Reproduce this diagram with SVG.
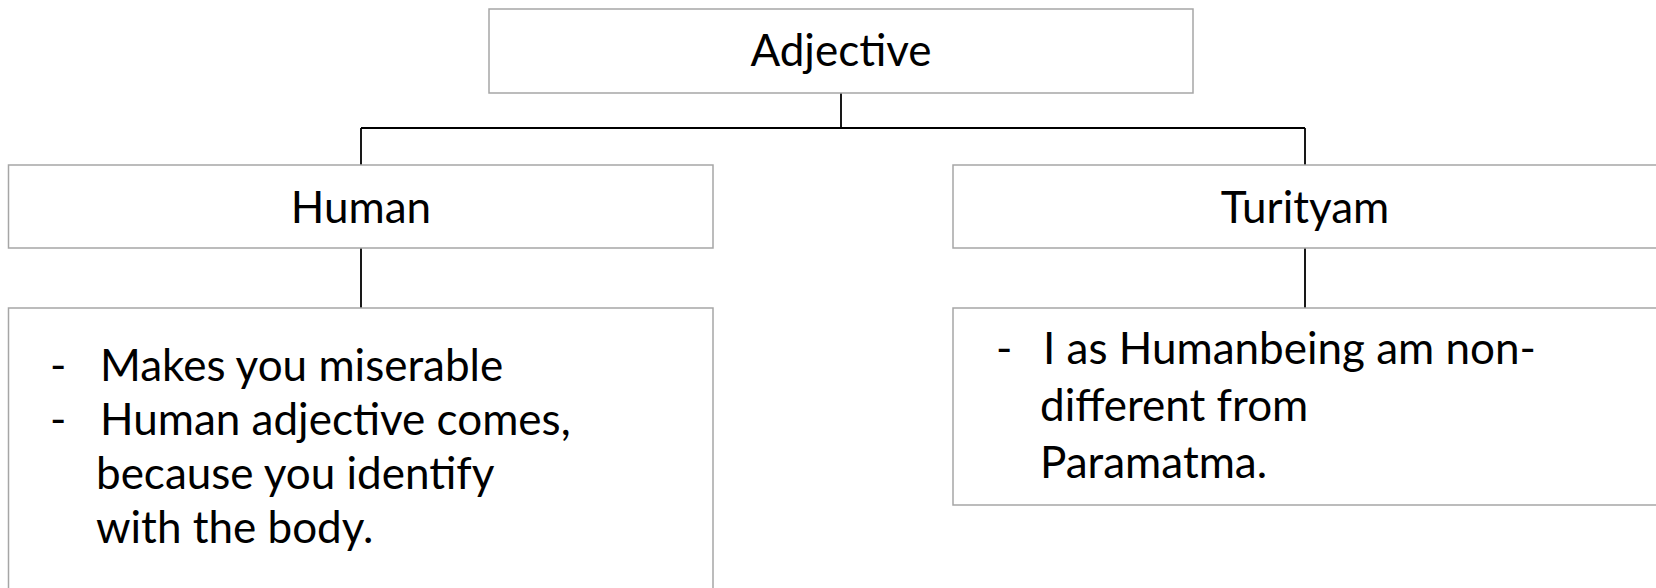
<svg xmlns="http://www.w3.org/2000/svg" width="1656" height="588" viewBox="0 0 1656 588">
<style>
.box{fill:#ffffff;stroke:#a6a6a6;stroke-width:1.5}
.conn{fill:none;stroke:#000000;stroke-width:1.8}
.t{font-family:Lato,"Open Sans",sans-serif;font-size:44px;fill:#000000}
.c{text-anchor:middle}
</style>
<rect width="1656" height="588" fill="#ffffff"/>
<g id="connectors">
<path class="conn" d="M841 93V128M361 128H1305M361 128V165M1305 128V165M361 248V308M1305 248V308"/>
</g>
<g id="adjective">
<rect class="box" x="489" y="9" width="704" height="84"/>
<text class="t c" x="841" y="66">Adjective</text>
</g>
<g id="human">
<rect class="box" x="8.5" y="165" width="704.5" height="83"/>
<text class="t c" x="361" y="223">Human</text>
</g>
<g id="turityam">
<rect class="box" x="953" y="165" width="705" height="83"/>
<text class="t c" x="1305" y="223">Turityam</text>
</g>
<g id="human-detail">
<rect class="box" x="8.5" y="308" width="704.5" height="300"/>
<text class="t" x="50" y="381">-</text>
<text class="t" x="100" y="381">Makes you miserable</text>
<text class="t" x="50" y="435">-</text>
<text class="t" x="100" y="435">Human adjective comes,</text>
<text class="t" x="96" y="489">because you identify</text>
<text class="t" x="96" y="543">with the body.</text>
</g>
<g id="turityam-detail">
<rect class="box" x="953" y="308" width="705" height="197"/>
<text class="t" x="996" y="364">-</text>
<text class="t" x="1043" y="364">I as Humanbeing am non-</text>
<text class="t" x="1040" y="421">different from</text>
<text class="t" x="1040" y="478">Paramatma.</text>
</g>
</svg>
